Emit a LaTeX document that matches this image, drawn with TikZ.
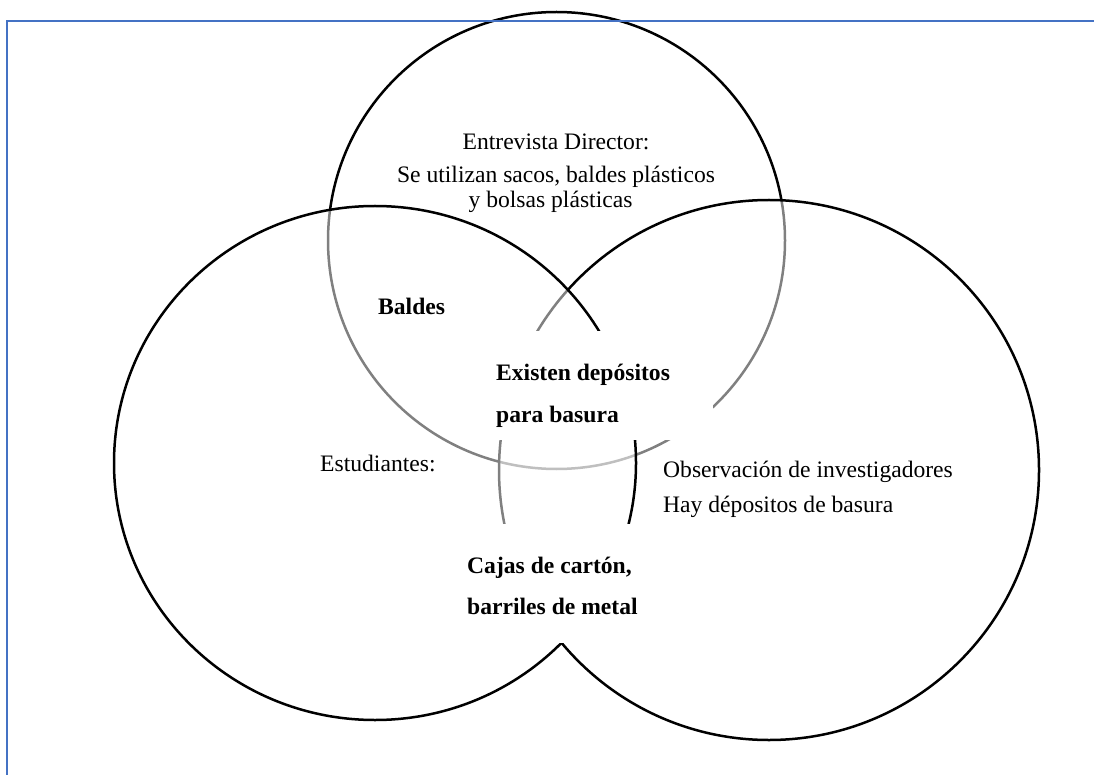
\documentclass[tikz,border=0pt]{standalone}
\usepackage{fontspec}
\setmainfont{Liberation Serif}
\definecolor{frameblue}{HTML}{4472C4}
\begin{document}
\begin{tikzpicture}[x=1pt,y=-1pt,
  ring/.style={draw=black, line width=2.5pt, fill=white, fill opacity=0.5},
  lbl/.style={inner sep=0pt, font=\fontsize{23.6}{26}\selectfont},
  blbl/.style={lbl, font=\fontsize{23.6}{26}\selectfont\bfseries},
  frameline/.style={draw=frameblue, line width=2.2pt}]
\useasboundingbox (0,0) rectangle (1094,775);

% three overlapping sets, each lightly veiling what lies beneath
\filldraw[ring] (556.5,240.5) circle[radius=228.5pt];
\filldraw[ring] (769,470) circle[radius=270pt];
\filldraw[ring] (375,463) ellipse[x radius=261pt, y radius=257pt];

% opaque panels behind the central labels
\fill[white] (485,331) rectangle (713,440);
\fill[white] (460,524) rectangle (645,643);

% labels
\node[lbl, anchor=base] (dir1) at (556,150) {Entrevista Director:};
\node[lbl, anchor=base] (dir2) at (556,183) {Se utilizan sacos, baldes plásticos};
\node[lbl, anchor=base] (dir3) at (550.5,208) {y bolsas plásticas};
\node[blbl, anchor=base west] (baldes) at (378,315) {Baldes};
\node[blbl, anchor=base west] (ex1) at (496,380) {Existen depósitos};
\node[blbl, anchor=base west] (ex2) at (496,422) {para basura};
\node[lbl, anchor=base west] (est) at (320,471) {Estudiantes:};
\node[lbl, anchor=base west] (obs1) at (663,477) {Observación de investigadores};
\node[lbl, anchor=base west] (obs2) at (663,512) {Hay dépositos de basura};
\node[blbl, anchor=base west] (caj1) at (467,573) {Cajas de cartón,};
\node[blbl, anchor=base west] (caj2) at (467,614) {barriles de metal};

% page frame
\draw[frameline] (7,776) -- (7,21) -- (1095,21);
\end{tikzpicture}
\end{document}
